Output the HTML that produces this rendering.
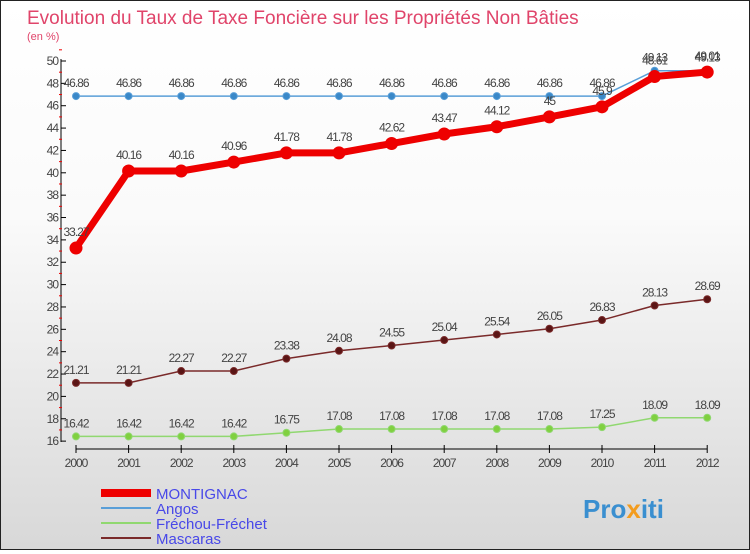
<!DOCTYPE html>
<html><head><meta charset="utf-8"><style>
body{margin:0;width:750px;height:550px;overflow:hidden;font-family:"Liberation Sans",sans-serif}
#wrap{position:relative;width:748px;height:548px;border:1px solid #222;background:linear-gradient(#fff,#fafafa 40%,#d8d8d8)}
</style></head><body>
<div id="wrap">
<svg id="chart" width="748" height="548">
<text x="26" y="23" font-size="19" fill="#e0446a">Evolution du Taux de Taxe Foncière sur les Propriétés Non Bâties</text>
<text x="26" y="39" font-size="11" fill="#e0446a">(en %)</text>
<g id="axes"></g><g id="series"></g><g id="legend"></g>
<text x="582" y="517" font-size="26" font-weight="bold" fill="#3a8fd0">Pro<tspan fill="#f39c1e">x</tspan>iti</text>
</svg></div>
<script>
const years=[2000,2001,2002,2003,2004,2005,2006,2007,2008,2009,2010,2011,2012];
const montignac=[33.27,40.16,40.16,40.96,41.78,41.78,42.62,43.47,44.12,45,45.9,48.61,49.01];
const angos=[46.86,46.86,46.86,46.86,46.86,46.86,46.86,46.86,46.86,46.86,46.86,49.13,49.13];
const frechou=[16.42,16.42,16.42,16.42,16.75,17.08,17.08,17.08,17.08,17.08,17.25,18.09,18.09];
const mascaras=[21.21,21.21,22.27,22.27,23.38,24.08,24.55,25.04,25.54,26.05,26.83,28.13,28.69];
const yTicks=[16,18,20,22,24,26,28,30,32,34,36,38,40,42,44,46,48,50];
const NS="http://www.w3.org/2000/svg";
function X(i){return 75+i*52.6;}
function Y(v){return 60+(50-v)*11.18;}
function mk(p,t,a){const e=document.createElementNS(NS,t);for(const k in a)e.setAttribute(k,a[k]);p.appendChild(e);return e;}
const ax=document.getElementById('axes');
let l=mk(ax,'line',{x1:60,y1:58,x2:60,y2:441,stroke:'#000'});


yTicks.forEach(v=>{
 mk(ax,'line',{x1:60,y1:Y(v),x2:65,y2:Y(v),stroke:'#000'});
 mk(ax,'line',{x1:58,y1:Y(v+1),x2:61,y2:Y(v+1),stroke:'#e00'});
 const t=mk(ax,'text',{x:57,y:Y(v)+4,'font-size':12,'text-anchor':'end',fill:'#444','letter-spacing':'-1'});
 t.textContent=v;
 
 
});
l=mk(ax,'line',{x1:X(0),y1:448,x2:X(12),y2:448,stroke:'#000'});


years.forEach((yr,i)=>{
 mk(ax,'line',{x1:X(i),y1:444,x2:X(i),y2:452,stroke:'#000'});
 const t=mk(ax,'text',{x:X(i),y:466,'font-size':12,'text-anchor':'middle',fill:'#444','letter-spacing':'-1'});
 t.textContent=yr;
 
 
});
const sg=document.getElementById('series');
function series(d,name,col,w,r,dot,labDy){
 const g=mk(sg,'g',{});
 
 
 mk(g,'polyline',{points:d.map((v,i)=>X(i)+','+Y(v)).join(' '),fill:'none',stroke:col,'stroke-width':w,'stroke-linejoin':'round'});
 d.forEach((v,i)=>{
  const c=mk(g,'circle',{cx:X(i),cy:Y(v),r:r,fill:dot,stroke:col,'stroke-width':1});
  
  
  const t=mk(g,'text',{x:X(i),y:Y(v)+labDy,'font-size':12,'text-anchor':'middle',fill:'#444','letter-spacing':'-1'});
  t.textContent=v;
  
  
 });
}
series(mascaras,'mascaras','#7a2a2a',1.5,3.5,'#5a1515',-9);
series(frechou,'frechou-frechet','#90d870',1.5,3.5,'#80d040',-9);
series(angos,'angos','#5a9fd8',1.5,3.5,'#3a88c8',-9);
series(montignac,'montignac','#ee0000',7,6,'#ee0000',-12);
const lg=document.getElementById('legend');
const items=[['MONTIGNAC','#ee0000',8],['Angos','#5a9fd8',2],['Fréchou-Fréchet','#90d870',2],['Mascaras','#7a2a2a',2]];
items.forEach((it,i)=>{
 const y=492+i*15;
 const g=mk(lg,'g',{});
 
 
 mk(g,'line',{x1:100,y1:y,x2:150,y2:y,stroke:it[1],'stroke-width':it[2]});
 const t=mk(g,'text',{x:155,y:y+6,'font-size':15,fill:'#4848e8'});
 t.textContent=it[0];
});
</script></body></html>
